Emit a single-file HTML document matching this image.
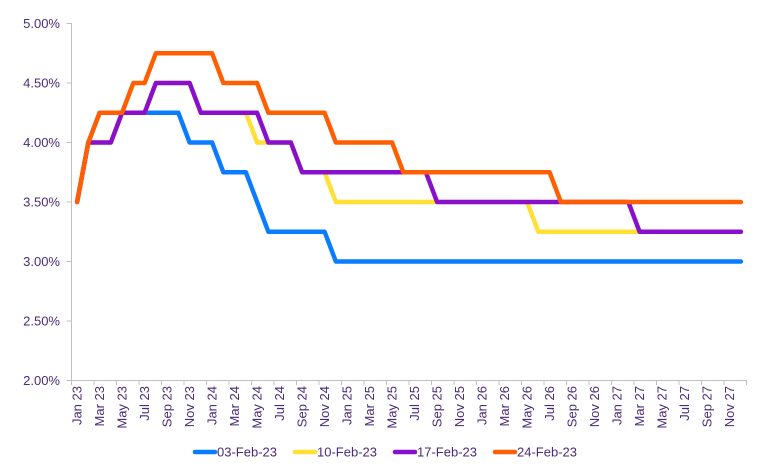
<!DOCTYPE html>
<html><head><meta charset="utf-8"><style>
html,body{margin:0;padding:0;background:#fff;}
svg{display:block;font-family:"Liberation Sans",sans-serif;}
text{fill:#4a2a7a;font-size:13px;}
</style></head><body>
<svg width="768" height="471" viewBox="0 0 768 471">
<g stroke="#c0c0c0" stroke-width="1" fill="none">
<line x1="71.5" y1="23" x2="71.5" y2="380.5"/>
<line x1="71.5" y1="380.5" x2="747" y2="380.5"/>
<path d="M66.5 23.5H71.5M66.5 83H71.5M66.5 142.5H71.5M66.5 202H71.5M66.5 261.5H71.5M66.5 321H71.5M66.5 380.5H71.5"/>
<path d="M71.5 380v5M94 380v5M116.5 380v5M139 380v5M161.5 380v5M184 380v5M206.5 380v5M229 380v5M251.5 380v5M274 380v5M296.5 380v5M319 380v5M341.5 380v5M364 380v5M386.5 380v5M409 380v5M431.5 380v5M454 380v5M476.5 380v5M499 380v5M521.5 380v5M544 380v5M566.5 380v5M589 380v5M611.5 380v5M634 380v5M656.5 380v5M679 380v5M701.5 380v5M724 380v5M746.5 380v5"/>
</g>
<g text-anchor="end">
<text x="60" y="28">5.00%</text>
<text x="60" y="87.5">4.50%</text>
<text x="60" y="147">4.00%</text>
<text x="60" y="206.5">3.50%</text>
<text x="60" y="266">3.00%</text>
<text x="60" y="325.5">2.50%</text>
<text x="60" y="385">2.00%</text>
</g>
<g text-anchor="end">
<text transform="translate(81.5,386) rotate(-90)">Jan 23</text>
<text transform="translate(104,386) rotate(-90)">Mar 23</text>
<text transform="translate(126.5,386) rotate(-90)">May 23</text>
<text transform="translate(149,386) rotate(-90)">Jul 23</text>
<text transform="translate(171.5,386) rotate(-90)">Sep 23</text>
<text transform="translate(194,386) rotate(-90)">Nov 23</text>
<text transform="translate(216.5,386) rotate(-90)">Jan 24</text>
<text transform="translate(239,386) rotate(-90)">Mar 24</text>
<text transform="translate(261.5,386) rotate(-90)">May 24</text>
<text transform="translate(284,386) rotate(-90)">Jul 24</text>
<text transform="translate(306.5,386) rotate(-90)">Sep 24</text>
<text transform="translate(329,386) rotate(-90)">Nov 24</text>
<text transform="translate(351.5,386) rotate(-90)">Jan 25</text>
<text transform="translate(374,386) rotate(-90)">Mar 25</text>
<text transform="translate(396.5,386) rotate(-90)">May 25</text>
<text transform="translate(419,386) rotate(-90)">Jul 25</text>
<text transform="translate(441.5,386) rotate(-90)">Sep 25</text>
<text transform="translate(464,386) rotate(-90)">Nov 25</text>
<text transform="translate(486.5,386) rotate(-90)">Jan 26</text>
<text transform="translate(509,386) rotate(-90)">Mar 26</text>
<text transform="translate(531.5,386) rotate(-90)">May 26</text>
<text transform="translate(554,386) rotate(-90)">Jul 26</text>
<text transform="translate(576.5,386) rotate(-90)">Sep 26</text>
<text transform="translate(599,386) rotate(-90)">Nov 26</text>
<text transform="translate(621.5,386) rotate(-90)">Jan 27</text>
<text transform="translate(644,386) rotate(-90)">Mar 27</text>
<text transform="translate(666.5,386) rotate(-90)">May 27</text>
<text transform="translate(689,386) rotate(-90)">Jul 27</text>
<text transform="translate(711.5,386) rotate(-90)">Sep 27</text>
<text transform="translate(734,386) rotate(-90)">Nov 27</text>
</g>
<g transform="translate(77.1,380.5) scale(11.25,-119)" fill="none" stroke-width="4.5" stroke-linejoin="round" stroke-linecap="round">
<polyline vector-effect="non-scaling-stroke" stroke="#0a7cff" points="0,1.5 1,2 2,2.25 9,2.25 10,2 12,2 13,1.75 15,1.75 17,1.25 22,1.25 23,1 59,1"/>
<polyline vector-effect="non-scaling-stroke" stroke="#ffe033" points="0,1.5 1,2 3,2 4,2.25 6,2.25 7,2.5 10,2.5 11,2.25 15,2.25 16,2 19,2 20,1.75 22,1.75 23,1.5 40,1.5 41,1.25 59,1.25"/>
<polyline vector-effect="non-scaling-stroke" stroke="#8a0fcc" points="0,1.5 1,2 3,2 4,2.25 6,2.25 7,2.5 10,2.5 11,2.25 16,2.25 17,2 19,2 20,1.75 31,1.75 32,1.5 49,1.5 50,1.25 59,1.25"/>
<polyline vector-effect="non-scaling-stroke" stroke="#ff5f00" points="0,1.5 1,2 2,2.25 4,2.25 5,2.5 6,2.5 7,2.75 12,2.75 13,2.5 16,2.5 17,2.25 22,2.25 23,2 28,2 29,1.75 42,1.75 43,1.5 59,1.5"/>
</g>
<g stroke-width="4.5" stroke-linecap="round">
<line x1="195" y1="452" x2="215" y2="452" stroke="#0a7cff"/>
<line x1="295" y1="452" x2="315" y2="452" stroke="#ffe033"/>
<line x1="395" y1="452" x2="415" y2="452" stroke="#8a0fcc"/>
<line x1="495" y1="452" x2="515" y2="452" stroke="#ff5f00"/>
</g>
<text x="217" y="456.5">03-Feb-23</text>
<text x="317" y="456.5">10-Feb-23</text>
<text x="417" y="456.5">17-Feb-23</text>
<text x="517" y="456.5">24-Feb-23</text>
</svg>
</body></html>
